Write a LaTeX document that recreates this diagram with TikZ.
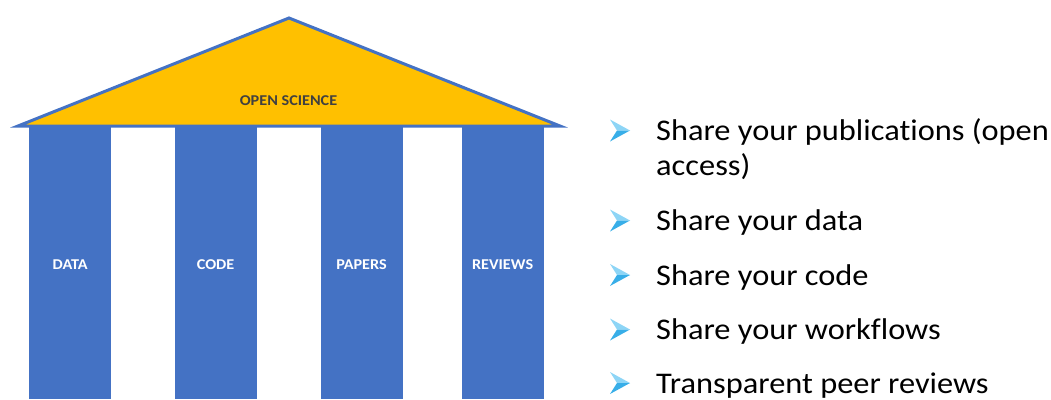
\documentclass[tikz,border=0pt]{standalone}
\usepackage{fontspec}
\setmainfont[Ligatures=NoCommon, FakeStretch=1.08]{Carlito}
\definecolor{pillarblue}{HTML}{4472C4}
\definecolor{roofyellow}{HTML}{FFC000}
\definecolor{rooftext}{HTML}{404040}
\definecolor{arrowlight}{HTML}{8DD5F6}
\definecolor{arrowdark}{HTML}{38AEE8}
\tikzset{
  pillar/.style={fill=pillarblue, draw=none},
  pillarlabel/.style={text=white, font=\fontsize{15}{18}\selectfont\bfseries, anchor=base, inner sep=0pt},
  rooflabel/.style={text=rooftext, font=\fontsize{15}{18}\selectfont\bfseries, anchor=base, inner sep=0pt},
  itemtext/.style={text=black, font=\fontsize{30}{36}\selectfont, anchor=base west, inner sep=0pt},
  bul/.pic={
    \fill[arrowlight] (10,0) -- (-10,-11) -- (-3,0) -- cycle;
    \fill[arrowdark] (10,0) -- (-3,0) -- (-10,11) -- cycle;
  }
}
\begin{document}
\begin{tikzpicture}[x=1pt,y=-1pt]
\useasboundingbox (0,0) rectangle (1051,399);
% pillars
\fill[pillar] (29.3,127) rectangle (111,399);
\fill[pillar] (174.7,127) rectangle (256.6,399);
\fill[pillar] (320.5,127) rectangle (402.5,399);
\fill[pillar] (461.6,127) rectangle (543.6,399);
% roof
\filldraw[fill=roofyellow, draw=pillarblue, line width=3pt, line join=miter]
  (18,126) -- (289,18) -- (560,126) -- cycle;
% labels
\node[rooflabel] (roof) at (288.5,105.5) {OPEN SCIENCE};
\node[pillarlabel] (data) at (70.2,269.5) {DATA};
\node[pillarlabel] (code) at (215.6,269.5) {CODE};
\node[pillarlabel] (papers) at (361.5,269.5) {PAPERS};
\node[pillarlabel] (reviews) at (502.6,269.5) {REVIEWS};
% bullets
\pic at (620,130.5) {bul};
\pic at (620,220.5) {bul};
\pic at (620,275) {bul};
\pic at (620,329.5) {bul};
\pic at (620,383) {bul};
\node[itemtext] (i1) at (656,140) {Share your publications (open};
\node[itemtext] (i1b) at (656,175.5) {access)};
\node[itemtext] (i2) at (656,230.5) {Share your data};
\node[itemtext] (i3) at (656,285) {Share your code};
\node[itemtext] (i4) at (656,339.5) {Share your workflows};
\node[itemtext] (i5) at (656,393.5) {Transparent peer reviews};
\end{tikzpicture}
\end{document}
